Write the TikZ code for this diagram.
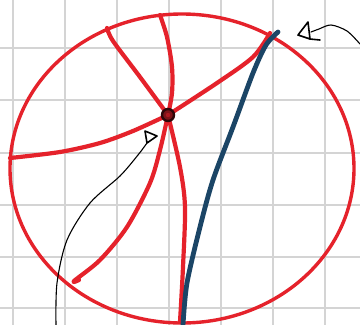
\documentclass[tikz,border=0pt]{standalone}
\definecolor{sketchred}{HTML}{E5222B}
\definecolor{sketchblue}{HTML}{1B4566}
\definecolor{gridgray}{HTML}{D4D4D4}
\tikzset{
  redline/.style={draw=sketchred, line width=4.2pt, line cap=round, line join=round},
  blueline/.style={draw=sketchblue, line width=4.8pt, line cap=round, line join=round},
  pointer/.style={draw=black, line width=1.1pt, line cap=round},
  pointerhead/.style={draw=black, line width=1.6pt, line join=round, line cap=round},
}
\begin{document}
\begin{tikzpicture}[x=1pt,y=-1pt]
\useasboundingbox (0,0) rectangle (360,325);
\fill[white] (0,0) rectangle (360,325);
% grid
\foreach \gx in {13,65,117,169,221,273,325}
  \draw[gridgray, line width=2pt] (\gx,0) -- (\gx,325);
\foreach \gy in {48,100,153,205,257,308}
  \draw[gridgray, line width=2pt] (0,\gy) -- (360,\gy);
% circle
\draw[sketchred, line width=3.4pt] (182,168.5) ellipse[x radius=172, y radius=154.5];
\coordinate (c) at (168,115);
% red spokes
\draw[redline] plot[smooth] coordinates {(c) (140,77) (113,41) (107,28)};
\draw[redline] plot[smooth] coordinates {(c) (172,93) (172,67) (167,37) (160,15)};
\draw[redline] plot[smooth] coordinates {(c) (217,83) (253,57) (270,33)};
\draw[redline] plot[smooth] coordinates {(c) (133,131) (100,143) (60,152) (10,158)};
\draw[redline] plot[smooth] coordinates {(c) (160,150) (150,183) (127,227) (100,260) (74,281) (79,280)};
\draw[redline] plot[smooth] coordinates {(c) (180,167) (185,207) (183,267) (180,322)};
% blue line
\draw[blueline] plot[smooth] coordinates {(278,32) (266,45) (253,73) (233,127) (213,180) (200,227) (187,283) (183,325)};
% center point
\draw[black!80!sketchred, line width=2.4pt, fill=sketchred!55!black] (c) circle[radius=6];
\fill[sketchred!75!black] (c) circle[radius=2.2];
% arrow 1 (bottom left, pointing at the centre)
\coordinate (a1tip) at (157,136);
\draw[pointer] plot[smooth] coordinates {(56,325) (57,283) (67,240) (90,203) (120,176) (138,155) (147,143)};
\draw[pointerhead] (a1tip) -- (145,131) -- (147,143) -- cycle;
% arrow 2 (top right, pointing at the blue line's end)
\coordinate (a2tip) at (298,35);
\draw[pointer] plot[smooth] coordinates {(360,44) (347,31) (331,25) (319,29) (311,32)};
\draw[pointerhead] (a2tip) -- (308,22) -- (310,39) -- cycle;
\draw[pointerhead] (310,39) -- (320,40);
\end{tikzpicture}
\end{document}
